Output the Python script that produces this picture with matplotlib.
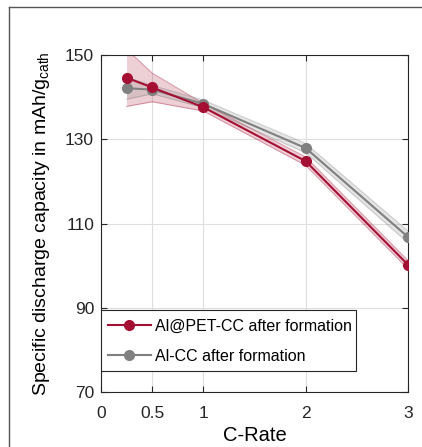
import matplotlib as mpl
import matplotlib.pyplot as plt
from matplotlib.lines import Line2D
from matplotlib.patches import Rectangle

mpl.use('Agg')
plt.rcParams['font.family'] = ['Liberation Sans', 'DejaVu Sans']
plt.rcParams['mathtext.default'] = 'regular'

# C-rates and capacities (mAh/g_cath)
c_rate = [0.25, 0.5, 1, 2, 3]
al_pet = [144.6, 142.3, 137.6, 124.8, 100.2]
al_pet_err = [6.8, 3.4, 0.9, 1.0, 1.0]
al_cc = [142.1, 141.8, 138.4, 127.9, 106.8]
al_cc_err = [2.6, 1.0, 0.9, 1.1, 1.4]

xticks = [0, 0.5, 1, 2, 3]
yticks = [70, 90, 110, 130, 150]

rot = '#A50F34'
grau = '#808080'

fig = plt.figure(figsize=(4.22, 4.47), dpi=100)
ax = fig.add_axes([101 / 422, 1 - 392 / 447, 307 / 422, 337 / 447])

def banda(x, y, err, cor):
    lo = [a - b for a, b in zip(y, err)]
    hi = [a + b for a, b in zip(y, err)]
    ax.fill_between(x, lo, hi, color=cor, alpha=0.2, linewidth=0)
    ax.plot(x, lo, color=cor, alpha=0.35, linewidth=0.8)
    ax.plot(x, hi, color=cor, alpha=0.35, linewidth=0.8)

banda(c_rate, al_pet, al_pet_err, rot)
banda(c_rate, al_cc, al_cc_err, grau)

ax.plot(c_rate, al_pet, '-o', color=rot, linewidth=1.5, markersize=7,
        label='Al@PET-CC after formation', zorder=4)
ax.plot(c_rate, al_cc, '-o', color=grau, linewidth=1.5, markersize=7,
        label='Al-CC after formation', zorder=3)

ax.set_xlim(0, 3)
ax.set_ylim(70, 150)
ax.set_xticks(xticks)
ax.set_xticklabels(['0', '0.5', '1', '2', '3'])
ax.set_yticks(yticks)
ax.grid(True, color='#dedede', linewidth=0.8)
ax.set_axisbelow(True)
ax.tick_params(direction='in', top=True, right=True, length=4, width=0.8,
               labelsize=12.5, colors='#262626', pad=5)
ax.tick_params(axis='x', pad=10)
for s in ax.spines.values():
    s.set_color('#262626')
    s.set_linewidth(0.8)

ax.set_xlabel('C-Rate', fontsize=14.5, labelpad=4)
ax.set_ylabel(r'Specific discharge capacity in mAh/g$_{cath}$', fontsize=14, labelpad=9)

# legend box drawn by hand, legend itself without frame
ax.add_patch(Rectangle((0, 0.0623), 255 / 307, 0.181, transform=ax.transAxes,
                       facecolor='white', edgecolor='#262626', linewidth=0.8, zorder=5))
leg = ax.legend(loc='center left', bbox_to_anchor=(0.012, 0.150), borderaxespad=0,
                fontsize=11.5, frameon=False, handlelength=2.7, handletextpad=0.25,
                borderpad=0.2, labelspacing=0.95, markerscale=1.0)
leg.set_zorder(6)

# outer frame (top and left edges visible)
fig.add_artist(Line2D([9 / 422, 1.0], [1 - 7 / 447, 1 - 7 / 447], color='#555555', linewidth=1, transform=fig.transFigure))
fig.add_artist(Line2D([9 / 422, 9 / 422], [0, 1 - 7 / 447], color='#555555', linewidth=1, transform=fig.transFigure))

fig.savefig('out.png', dpi=100)
